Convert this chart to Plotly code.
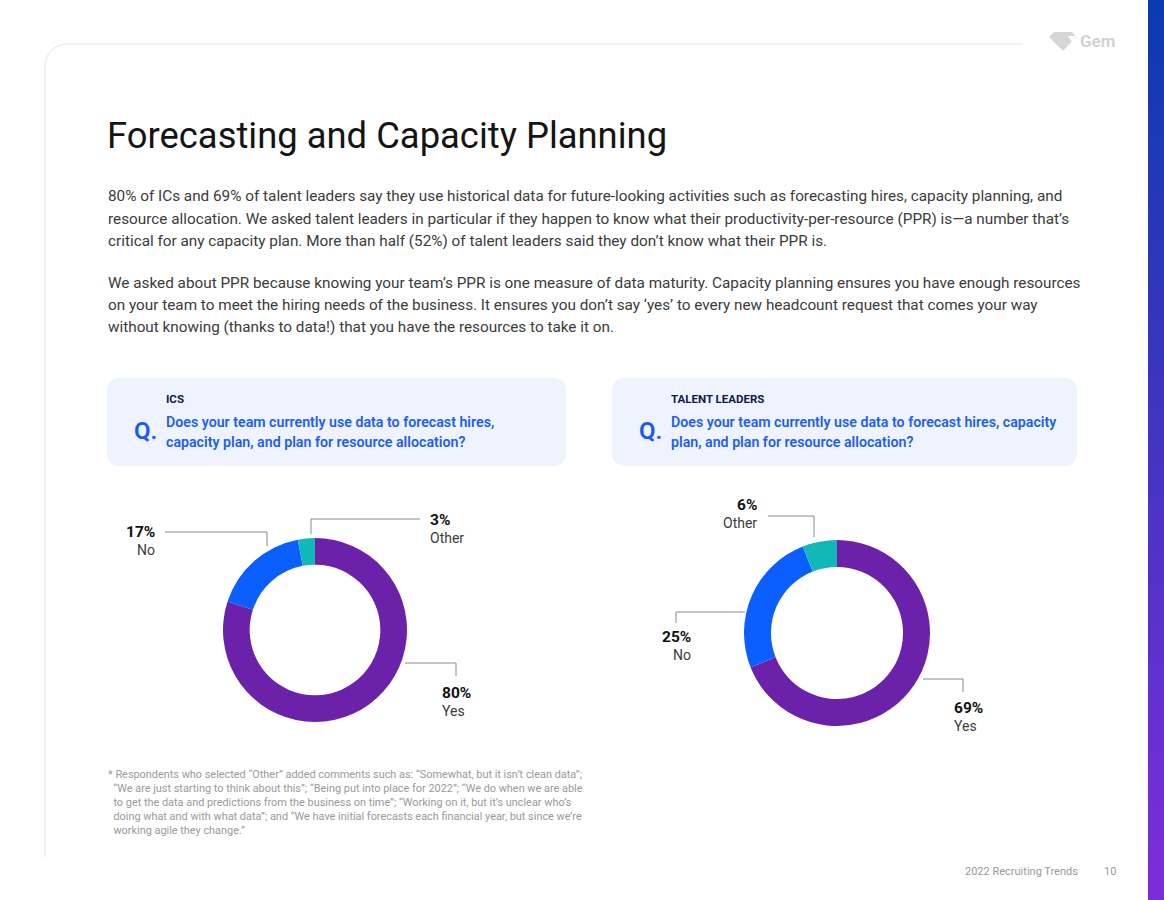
import plotly.graph_objects as go

W, H = 1164, 900

# ---------------- data ----------------
categories = ["Yes", "No", "Other"]
ics_values = [80, 17, 3]
tl_values = [69, 25, 6]
slice_colors = ["#6C21AB", "#0B5FFF", "#12B8B8"]

title = "Forecasting and Capacity Planning"
para1 = [
    "80% of ICs and 69% of talent leaders say they use historical data for future-looking activities such as forecasting hires, capacity planning, and",
    "resource allocation. We asked talent leaders in particular if they happen to know what their productivity-per-resource (PPR) is\u2014a number that\u2019s",
    "critical for any capacity plan. More than half (52%) of talent leaders said they don\u2019t know what their PPR is.",
]
para2 = [
    "We asked about PPR because knowing your team\u2019s PPR is one measure of data maturity. Capacity planning ensures you have enough resources",
    "on your team to meet the hiring needs of the business. It ensures you don\u2019t say \u2018yes\u2019 to every new headcount request that comes your way",
    "without knowing (thanks to data!) that you have the resources to take it on.",
]
groups = ["ICS", "TALENT LEADERS"]
q_lines = [
    ["Does your team currently use data to forecast hires,", "capacity plan, and plan for resource allocation?"],
    ["Does your team currently use data to forecast hires, capacity", "plan, and plan for resource allocation?"],
]
footnote = [
    "* Respondents who selected \u201cOther\u201d added comments such as: \u201cSomewhat, but it isn\u2019t clean data\u201d;",
    "  \u201cWe are just starting to think about this\u201d; \u201cBeing put into place for 2022\u201d; \u201cWe do when we are able",
    "  to get the data and predictions from the business on time\u201d; \u201cWorking on it, but it\u2019s unclear who\u2019s",
    "  doing what and with what data\u201d; and \u201cWe have initial forecasts each financial year, but since we\u2019re",
    "  working agile they change.\u201d",
]
footer_text = "2022 Recruiting Trends"
page_no = "10"

# ---------------- layout helpers ----------------
def fx(x):
    return x / W

def fy(y):
    return 1 - y / H

FONT = "Roboto"
fig = go.Figure()

# donuts: (center x, center y, radius) in pixels
donuts = [(315, 630, 92, ics_values), (837, 633, 93, tl_values)]
for cx, cy, r, vals in donuts:
    fig.add_trace(go.Pie(
        labels=categories, values=vals, hole=0.71, sort=False,
        direction="clockwise", rotation=0,
        marker=dict(colors=slice_colors, line=dict(width=0)),
        textinfo="none", hoverinfo="label+percent", showlegend=False,
        domain=dict(x=[fx(cx - r), fx(cx + r)], y=[fy(cy + r), fy(cy - r)]),
    ))

shapes = []
annotations = []

def text(x, y, s, size, color, weight=400, anchor="left", family=FONT):
    annotations.append(dict(
        x=fx(x), y=fy(y), xref="paper", yref="paper", text=s, showarrow=False,
        xanchor=anchor, yanchor="middle", align=anchor,
        font=dict(family=family, size=size, color=color, weight=weight),
    ))

def line_path(pts, color="#8a8a8a", width=1):
    d = "M " + " L ".join(f"{fx(x)},{fy(y)}" for x, y in pts)
    shapes.append(dict(type="path", path=d, xref="paper", yref="paper",
                       line=dict(color=color, width=width)))

def rounded_rect(x0, y0, x1, y1, r, fill):
    k = 0.45
    pts = [
        f"M {fx(x0 + r)},{fy(y0)}",
        f"L {fx(x1 - r)},{fy(y0)}",
        f"C {fx(x1 - r * k)},{fy(y0)} {fx(x1)},{fy(y0 + r * k)} {fx(x1)},{fy(y0 + r)}",
        f"L {fx(x1)},{fy(y1 - r)}",
        f"C {fx(x1)},{fy(y1 - r * k)} {fx(x1 - r * k)},{fy(y1)} {fx(x1 - r)},{fy(y1)}",
        f"L {fx(x0 + r)},{fy(y1)}",
        f"C {fx(x0 + r * k)},{fy(y1)} {fx(x0)},{fy(y1 - r * k)} {fx(x0)},{fy(y1 - r)}",
        f"L {fx(x0)},{fy(y0 + r)}",
        f"C {fx(x0)},{fy(y0 + r * k)} {fx(x0 + r * k)},{fy(y0)} {fx(x0 + r)},{fy(y0)} Z",
    ]
    shapes.append(dict(type="path", path=" ".join(pts), xref="paper", yref="paper",
                       fillcolor=fill, line=dict(width=0), layer="below"))

# card outline (top-left rounded corner)
r = 22
k = 0.45
card = (f"M {fx(45)},{fy(857)} L {fx(45)},{fy(44 + r)} "
        f"C {fx(45)},{fy(44 + r * k)} {fx(45 + r * k)},{fy(44)} {fx(45 + r)},{fy(44)} "
        f"L {fx(1023)},{fy(44)}")
shapes.append(dict(type="path", path=card, xref="paper", yref="paper",
                   line=dict(color="#e4e4e4", width=1)))

# right gradient bar
top_c = (11, 59, 176)
bot_c = (125, 45, 216)
n = 60
for i in range(n):
    t = i / (n - 1)
    c = tuple(round(top_c[j] + (bot_c[j] - top_c[j]) * t) for j in range(3))
    shapes.append(dict(type="rect", xref="paper", yref="paper",
                       x0=fx(1148), x1=1.0, y0=fy((i + 1) * H / n + 0.5), y1=fy(i * H / n),
                       fillcolor=f"rgb{c}", line=dict(width=0)))

# Gem logo
gem = (f"M {fx(1049)},{fy(37)} L {fx(1054)},{fy(32)} L {fx(1072)},{fy(32)} "
       f"L {fx(1076)},{fy(37)} L {fx(1063)},{fy(51)} Z")
shapes.append(dict(type="path", path=gem, xref="paper", yref="paper",
                   fillcolor="#d6d6d6", line=dict(width=0)))
notch = f"M {fx(1068)},{fy(36)} L {fx(1076)},{fy(36)} L {fx(1072)},{fy(42)} Z"
shapes.append(dict(type="path", path=notch, xref="paper", yref="paper",
                   fillcolor="#ffffff", line=dict(width=0)))
text(1078, 41, "Gem", 17, "#d3d3d3", weight=700)

# title
text(105, 136, title, 36.4, "#141414", weight=400)

# paragraphs
body_color = "#3b3b3b"
for yy, s in zip([196, 219, 241], para1):
    text(106, yy, s, 15.3, body_color)
for yy, s in zip([283, 305, 327], para2):
    text(106, yy, s, 15.3, body_color)

# question boxes
boxes = [(107, 378, 566, 466), (612, 378, 1077, 466)]
for (x0, y0, x1, y1), grp, ql in zip(boxes, groups, q_lines):
    rounded_rect(x0, y0, x1, y1, 12, "#EEF3FD")
    tx = x0 + 57
    text(tx, 399, grp, 11.5, "#0d1b4a", weight=700)
    text(x0 + 25, 431, "Q.", 24, "#1A5BEF", weight=600)
    text(tx, 422, ql[0], 14.2, "#1E5EF0", weight=600)
    text(tx, 442, ql[1], 14.2, "#1E5EF0", weight=600)

# donut call-out labels (value from data, placement by style)
callouts = [
    # ICS
    dict(vals=ics_values, idx=1, x=157, y=532, anchor="right",
         pts=[(165, 532), (267, 532), (267, 546)]),
    dict(vals=ics_values, idx=2, x=428, y=520, anchor="left",
         pts=[(311, 534), (311, 519), (420, 519)]),
    dict(vals=ics_values, idx=0, x=440, y=693, anchor="left",
         pts=[(405, 663), (456, 663), (456, 676)]),
    # Talent leaders
    dict(vals=tl_values, idx=2, x=759, y=505, anchor="right",
         pts=[(768, 516), (814, 516), (814, 537)]),
    dict(vals=tl_values, idx=1, x=693, y=637, anchor="right",
         pts=[(676, 623), (676, 612), (745, 612)]),
    dict(vals=tl_values, idx=0, x=952, y=708, anchor="left",
         pts=[(923, 679), (963, 679), (963, 692)]),
]
for c in callouts:
    v = c["vals"][c["idx"]]
    text(c["x"], c["y"], f"{v}%", 15.5, "#111111", weight=700, anchor=c["anchor"])
    text(c["x"], c["y"] + 18, categories[c["idx"]], 14, "#3b3b3b", anchor=c["anchor"])
    line_path(c["pts"])

# footnote
for i, s in enumerate(footnote):
    text(106, 774 + i * 14.1, s, 10.9, "#9a9a9a")

# footer
text(1080, 871, footer_text, 11, "#9a9a9a", anchor="right")
text(1118, 871, page_no, 11, "#9a9a9a", anchor="right")

fig.update_layout(
    width=W, height=H, margin=dict(l=0, r=0, t=0, b=0),
    paper_bgcolor="#ffffff", plot_bgcolor="#ffffff",
    shapes=shapes, annotations=annotations,
    xaxis=dict(visible=False), yaxis=dict(visible=False),
)

fig.write_html("out.html", config={"displayModeBar": False},
               post_script="document.body.style.margin='0';")
